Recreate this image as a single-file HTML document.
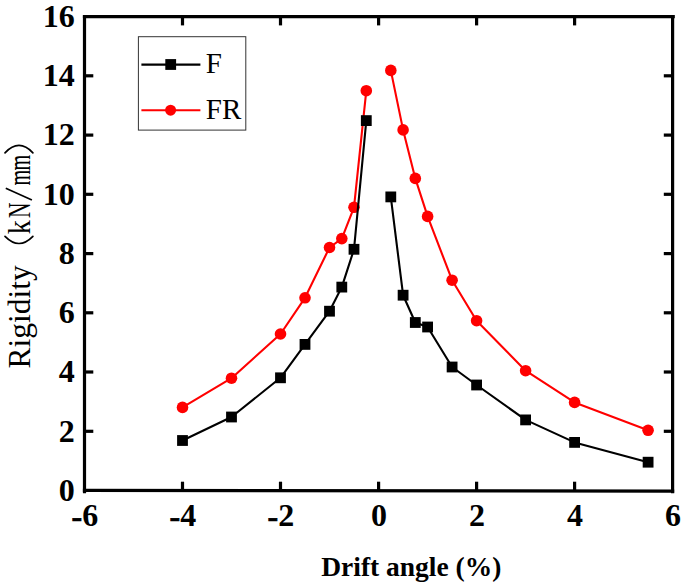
<!DOCTYPE html>
<html><head><meta charset="utf-8"><title>Rigidity vs drift angle</title>
<style>
html,body{margin:0;padding:0;background:#fff;}
body{width:685px;height:587px;overflow:hidden;font-family:"Liberation Serif",serif;}
svg{display:block;}
text{font-family:"Liberation Serif",serif;fill:#000;}
.tk{font-weight:bold;font-size:32px;}
</style></head><body>
<svg width="685" height="587" viewBox="0 0 685 587">
<rect width="685" height="587" fill="#fff"/>

<g stroke="#000" stroke-width="3.2" fill="none">
<line x1="84.5" y1="15.2" x2="84.5" y2="493.3"/>
<line x1="672.6" y1="15.2" x2="672.6" y2="493.3"/>
<line x1="82.9" y1="16.6" x2="674.8" y2="16.6"/>
<line x1="82.9" y1="490.35" x2="674.2" y2="491.2"/>
<line x1="182.5" y1="490.5" x2="182.5" y2="481.7"/>
<line x1="182.5" y1="16.6" x2="182.5" y2="25.400000000000002"/>
<line x1="280.5" y1="490.5" x2="280.5" y2="481.7"/>
<line x1="280.5" y1="16.6" x2="280.5" y2="25.400000000000002"/>
<line x1="378.6" y1="490.5" x2="378.6" y2="481.7"/>
<line x1="378.6" y1="16.6" x2="378.6" y2="25.400000000000002"/>
<line x1="476.6" y1="490.5" x2="476.6" y2="481.7"/>
<line x1="476.6" y1="16.6" x2="476.6" y2="25.400000000000002"/>
<line x1="574.6" y1="490.5" x2="574.6" y2="481.7"/>
<line x1="574.6" y1="16.6" x2="574.6" y2="25.400000000000002"/>
<line x1="84.5" y1="431.3" x2="93.3" y2="431.3"/>
<line x1="672.6" y1="431.3" x2="663.8000000000001" y2="431.3"/>
<line x1="84.5" y1="372.0" x2="93.3" y2="372.0"/>
<line x1="672.6" y1="372.0" x2="663.8000000000001" y2="372.0"/>
<line x1="84.5" y1="312.8" x2="93.3" y2="312.8"/>
<line x1="672.6" y1="312.8" x2="663.8000000000001" y2="312.8"/>
<line x1="84.5" y1="253.6" x2="93.3" y2="253.6"/>
<line x1="672.6" y1="253.6" x2="663.8000000000001" y2="253.6"/>
<line x1="84.5" y1="194.3" x2="93.3" y2="194.3"/>
<line x1="672.6" y1="194.3" x2="663.8000000000001" y2="194.3"/>
<line x1="84.5" y1="135.1" x2="93.3" y2="135.1"/>
<line x1="672.6" y1="135.1" x2="663.8000000000001" y2="135.1"/>
<line x1="84.5" y1="75.8" x2="93.3" y2="75.8"/>
<line x1="672.6" y1="75.8" x2="663.8000000000001" y2="75.8"/>
</g>
<text class="tk" x="74.8" y="500.8" text-anchor="end">0</text>
<text class="tk" x="74.8" y="441.6" text-anchor="end">2</text>
<text class="tk" x="74.8" y="382.3" text-anchor="end">4</text>
<text class="tk" x="74.8" y="323.1" text-anchor="end">6</text>
<text class="tk" x="74.8" y="263.9" text-anchor="end">8</text>
<text class="tk" x="74.8" y="204.6" text-anchor="end">10</text>
<text class="tk" x="74.8" y="145.4" text-anchor="end">12</text>
<text class="tk" x="74.8" y="86.1" text-anchor="end">14</text>
<text class="tk" x="74.8" y="26.9" text-anchor="end">16</text>
<text class="tk" x="84.9" y="525.6" text-anchor="middle"><tspan dy="1.5" stroke="#000" stroke-width="0.7">-</tspan><tspan dy="-1.5">6</tspan></text>
<text class="tk" x="182.9" y="525.6" text-anchor="middle"><tspan dy="1.5" stroke="#000" stroke-width="0.7">-</tspan><tspan dy="-1.5">4</tspan></text>
<text class="tk" x="280.9" y="525.6" text-anchor="middle"><tspan dy="1.5" stroke="#000" stroke-width="0.7">-</tspan><tspan dy="-1.5">2</tspan></text>
<text class="tk" x="378.9" y="525.6" text-anchor="middle">0</text>
<text class="tk" x="477.0" y="525.6" text-anchor="middle">2</text>
<text class="tk" x="575.0" y="525.6" text-anchor="middle">4</text>
<text class="tk" x="673.0" y="525.6" text-anchor="middle">6</text>
<text x="411.3" y="575.8" text-anchor="middle" font-weight="bold" font-size="27.5">Drift angle (%)</text>
<g transform="translate(30.0,367.6) rotate(-90)">
<text x="-0.9" y="0" font-size="31.5">Rigidity</text>
<path d="M131.2,-25.0 Q117.0,-11.0 131.2,2.9" fill="none" stroke="#000" stroke-width="1.7" stroke-linecap="round"/>
<path d="M214.8,-25.0 Q229.6,-11.0 214.8,2.9" fill="none" stroke="#000" stroke-width="1.7" stroke-linecap="round"/>
<line x1="167.5" y1="1.9" x2="179.4" y2="-24.2" stroke="#000" stroke-width="1.6"/>
<text transform="translate(133.4,0) scale(0.86,1)" x="0" y="0" font-size="32.5">k</text>
<text transform="translate(149.6,0) scale(0.66,1)" x="0" y="0" font-size="32.5">N</text>
<text transform="translate(182.0,0) scale(0.62,1)" x="0" y="0" font-size="32.5">m</text>
<text transform="translate(197.2,0) scale(0.62,1)" x="0" y="0" font-size="32.5">m</text>
</g>
<g stroke="#ff0000" stroke-width="2.1" fill="none" stroke-linejoin="round">
<polyline points="182.5,407.4 231.5,378.2 280.5,334.0 305.0,297.8 329.5,247.5 341.8,238.6 354.0,207.3 366.3,90.7"/>
<polyline points="390.8,70.4 403.1,129.9 415.3,178.4 427.6,216.4 452.1,280.2 476.6,320.7 525.6,370.7 574.6,402.4 648.1,430.3"/>
</g>
<g fill="#ff0000">
<circle cx="182.5" cy="407.4" r="5.8"/>
<circle cx="231.5" cy="378.2" r="5.8"/>
<circle cx="280.5" cy="334.0" r="5.8"/>
<circle cx="305.0" cy="297.8" r="5.8"/>
<circle cx="329.5" cy="247.5" r="5.8"/>
<circle cx="341.8" cy="238.6" r="5.8"/>
<circle cx="354.0" cy="207.3" r="5.8"/>
<circle cx="366.3" cy="90.7" r="5.8"/>
<circle cx="390.8" cy="70.4" r="5.8"/>
<circle cx="403.1" cy="129.9" r="5.8"/>
<circle cx="415.3" cy="178.4" r="5.8"/>
<circle cx="427.6" cy="216.4" r="5.8"/>
<circle cx="452.1" cy="280.2" r="5.8"/>
<circle cx="476.6" cy="320.7" r="5.8"/>
<circle cx="525.6" cy="370.7" r="5.8"/>
<circle cx="574.6" cy="402.4" r="5.8"/>
<circle cx="648.1" cy="430.3" r="5.8"/>
</g>
<g stroke="#000" stroke-width="2.1" fill="none" stroke-linejoin="round">
<polyline points="182.5,440.5 231.5,417.0 280.5,377.8 305.0,344.4 329.5,311.2 341.8,287.1 354.0,249.3 366.3,120.6"/>
<polyline points="390.8,196.9 403.1,295.2 415.3,322.5 427.6,327.0 452.1,367.0 476.6,385.0 525.6,419.9 574.6,442.4 648.1,462.2"/>
</g>
<g fill="#000">
<rect x="177.1" y="435.1" width="10.8" height="10.8"/>
<rect x="226.1" y="411.6" width="10.8" height="10.8"/>
<rect x="275.1" y="372.4" width="10.8" height="10.8"/>
<rect x="299.6" y="339.0" width="10.8" height="10.8"/>
<rect x="324.1" y="305.8" width="10.8" height="10.8"/>
<rect x="336.4" y="281.7" width="10.8" height="10.8"/>
<rect x="348.6" y="243.9" width="10.8" height="10.8"/>
<rect x="360.9" y="115.2" width="10.8" height="10.8"/>
<rect x="385.4" y="191.5" width="10.8" height="10.8"/>
<rect x="397.7" y="289.8" width="10.8" height="10.8"/>
<rect x="409.9" y="317.1" width="10.8" height="10.8"/>
<rect x="422.2" y="321.6" width="10.8" height="10.8"/>
<rect x="446.7" y="361.6" width="10.8" height="10.8"/>
<rect x="471.2" y="379.6" width="10.8" height="10.8"/>
<rect x="520.2" y="414.5" width="10.8" height="10.8"/>
<rect x="569.2" y="437.0" width="10.8" height="10.8"/>
<rect x="642.7" y="456.8" width="10.8" height="10.8"/>
</g>
<rect x="138.4" y="36.7" width="107.4" height="93.4" fill="#fff" stroke="#333" stroke-width="1"/>
<line x1="141.4" y1="64.6" x2="200.4" y2="64.6" stroke="#000" stroke-width="2.1"/>
<rect x="165.3" y="59.1" width="10.8" height="10.8" fill="#000"/>
<line x1="141.4" y1="110.2" x2="200.4" y2="110.2" stroke="#ff0000" stroke-width="2.1"/>
<circle cx="170.6" cy="110.2" r="5.5" fill="#ff0000"/>
<text x="205.8" y="73.4" font-size="29">F</text>
<text x="205.8" y="118.8" font-size="29">FR</text>
</svg></body></html>
